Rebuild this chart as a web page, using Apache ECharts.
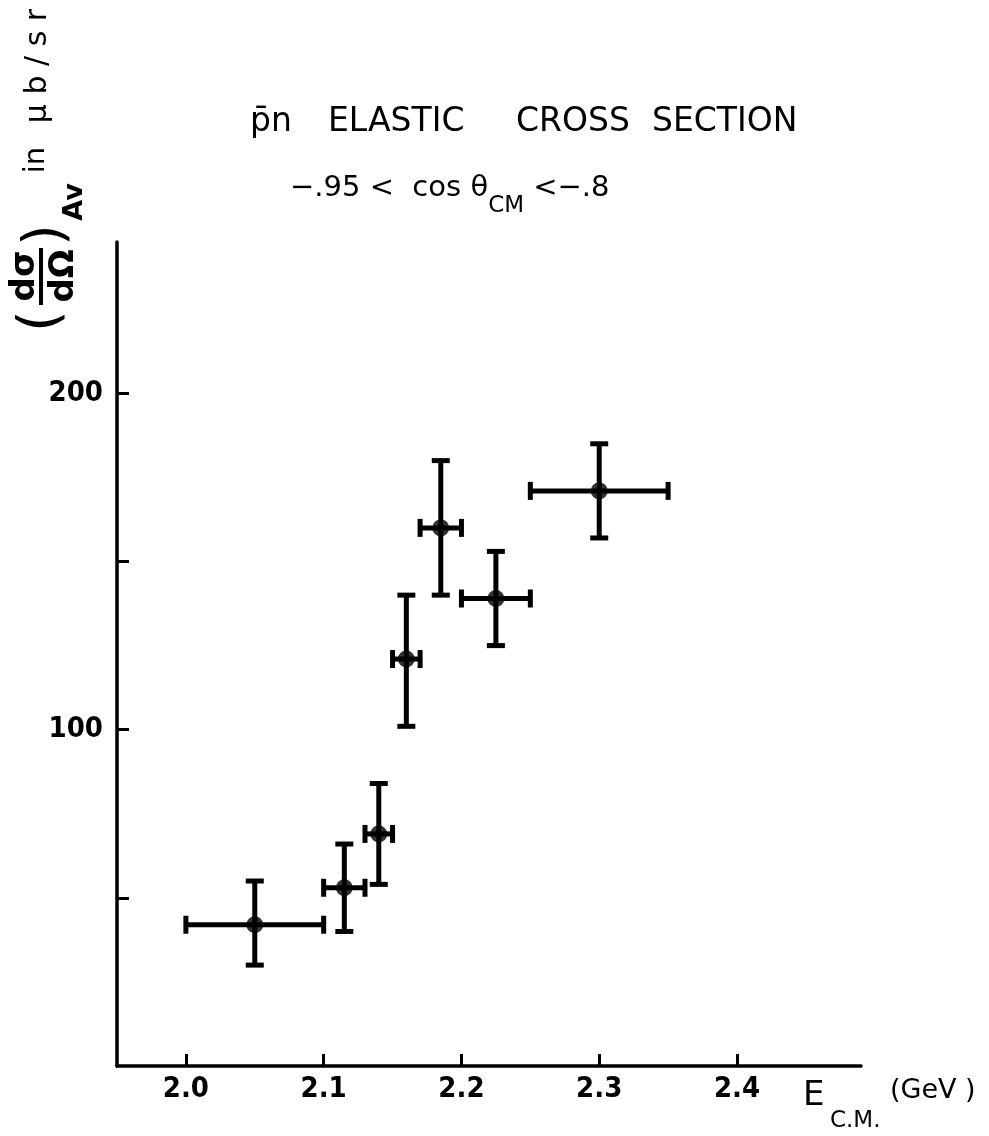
<!DOCTYPE html>
<html>
<head>
<meta charset="utf-8">
<title>pbar n elastic cross section</title>
<script src="https://cdn.jsdelivr.net/npm/echarts@6/dist/echarts.min.js"></script>
<style>
  html, body { margin: 0; padding: 0; background: #fff; }
  #chart { width: 989px; height: 1136px; }
</style>
</head>
<body>
<div id="chart"></div>
<script>
// E_CM (GeV) with horizontal bin edges
const energy = [2.05, 2.115, 2.14, 2.16, 2.185, 2.225, 2.30];
const energyLow = [2.0, 2.10, 2.13, 2.15, 2.17, 2.20, 2.25];
const energyHigh = [2.1, 2.13, 2.15, 2.17, 2.20, 2.25, 2.35];
// (dsigma/dOmega)_Av in microbarn/sr with error bars
const sigma = [42, 53, 69, 121, 160, 139, 171];
const sigmaLow = [30, 40, 54, 101, 140, 125, 157];
const sigmaHigh = [55, 66, 84, 140, 180, 153, 185];
const xTicks = [2.0, 2.1, 2.2, 2.3, 2.4];
const yTicks = [50, 100, 150, 200];
const yLabels = [100, 200];

const chart = echarts.init(document.getElementById('chart'));
const ink = '#000';
const font = '"DejaVu Sans", sans-serif';
const condensed = '"DejaVu Sans Condensed", "DejaVu Sans", sans-serif';

const points = energy.map((e, i) => [e, energyLow[i], energyHigh[i], sigma[i], sigmaLow[i], sigmaHigh[i]]);

function vtext(text, x, y, size, weight) {
  return {
    type: 'text', x: x, y: y, rotation: Math.PI / 2,
    style: {
      text: text, fill: ink, font: (weight || 'normal') + ' ' + size + 'px ' + font,
      align: 'center', verticalAlign: 'middle', textAlign: 'center', textVerticalAlign: 'middle'
    }
  };
}
function htext(text, x, y, size, align, weight) {
  return {
    type: 'text', x: x, y: y,
    style: {
      text: text, fill: ink, font: (weight || 'normal') + ' ' + size + 'px ' + font,
      align: align || 'left', verticalAlign: 'middle', textAlign: align || 'left', textVerticalAlign: 'middle'
    }
  };
}

chart.setOption({
  backgroundColor: '#fff',
  animation: false,
  grid: { left: 117, right: 128, top: 242, bottom: 70 },
  xAxis: {
    type: 'value', min: 1.95, max: 2.49,
    splitLine: { show: false },
    axisLine: { lineStyle: { color: ink, width: 3.5 } },
    axisTick: { inside: true, length: 12, customValues: xTicks, lineStyle: { color: ink, width: 3 } },
    axisLabel: {
      customValues: xTicks, margin: 9, color: ink, fontSize: 29, fontWeight: 'bold', fontFamily: condensed,
      formatter: v => v.toFixed(1)
    }
  },
  yAxis: {
    type: 'value', min: 0, max: 245,
    splitLine: { show: false },
    axisLine: { lineStyle: { color: ink, width: 3.5 } },
    axisTick: { inside: true, length: 12, customValues: yTicks, lineStyle: { color: ink, width: 3 } },
    axisLabel: {
      customValues: yLabels, margin: 14, color: ink, fontSize: 29, fontWeight: 'bold', fontFamily: condensed
    }
  },
  series: [
    {
      type: 'custom',
      data: points,
      encode: { x: [0, 1, 2], y: [3, 4, 5] },
      renderItem: function (params, api) {
        const x = api.value(0), y = api.value(3);
        const left = api.coord([api.value(1), y]);
        const right = api.coord([api.value(2), y]);
        const top = api.coord([x, api.value(5)]);
        const bottom = api.coord([x, api.value(4)]);
        const cap = 9;
        const st = { stroke: ink, lineWidth: 5 };
        const line = (x1, y1, x2, y2) => ({ type: 'line', shape: { x1, y1, x2, y2 }, style: st });
        return {
          type: 'group',
          children: [
            line(left[0], left[1], right[0], right[1]),
            line(top[0], top[1], bottom[0], bottom[1]),
            line(left[0], left[1] - cap, left[0], left[1] + cap),
            line(right[0], right[1] - cap, right[0], right[1] + cap),
            line(top[0] - cap, top[1], top[0] + cap, top[1]),
            line(bottom[0] - cap, bottom[1], bottom[0] + cap, bottom[1])
          ]
        };
      }
    },
    {
      type: 'scatter',
      data: energy.map((e, i) => [e, sigma[i]]),
      symbol: 'circle',
      symbolSize: 17,
      itemStyle: { color: ink }
    }
  ],
  graphic: [
    // title
    htext('p\u0304n', 250, 122, 33),
    htext('ELASTIC', 328, 122, 33),
    htext('CROSS', 516, 122, 33),
    htext('SECTION', 652, 122, 33),
    // subtitle with subscript
    {
      type: 'text', x: 290, y: 196,
      style: {
        text: '{a|\u2212.95 <  cos \u03b8}{s|CM}{a| <\u2212.8}',
        align: 'left', verticalAlign: 'middle', textAlign: 'left', textVerticalAlign: 'middle',
        rich: {
          a: { fontSize: 29, fontFamily: font, color: ink, lineHeight: 44, verticalAlign: 'top' },
          s: { fontSize: 23, fontFamily: font, color: ink, lineHeight: 22, verticalAlign: 'bottom' }
        }
      }
    },
    // y axis name, rotated
    vtext('(', 42, 321, 56),
    vtext(')', 47, 235, 56),
    vtext('d\u03c3', 25, 276, 34, 'bold'),
    { type: 'line', shape: { x1: 41, y1: 248, x2: 41, y2: 305 }, style: { stroke: ink, lineWidth: 4 } },
    vtext('d\u03a9', 64, 276, 34, 'bold'),
    vtext('Av', 75, 202, 27, 'bold'),
    vtext('in', 36, 160, 29),
    vtext('\u03bc b / s r', 38, 66, 30),
    // x axis name
    htext('E', 803, 1096, 34),
    htext('C.M.', 830, 1121, 23),
    htext('(GeV )', 890, 1091, 27)
  ]
});
</script>
</body>
</html>
